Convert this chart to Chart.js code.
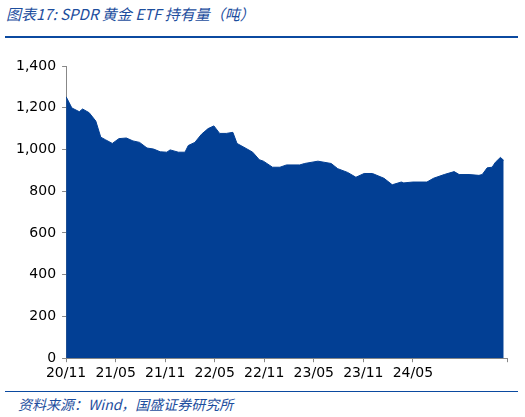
<!DOCTYPE html>
<html><head><meta charset="utf-8">
<script src="https://cdn.jsdelivr.net/npm/chart.js@4"></script>
<style>
body{margin:0;width:525px;height:417px;background:#fff;position:relative;overflow:hidden;font-family:"Noto Sans CJK SC",sans-serif}
#titulo{position:absolute;left:6px;top:3px;font-size:15px;font-style:italic;color:#1d4e9e}
#linha1{position:absolute;left:5px;top:36px;width:513px;height:2px;background:#0b4aa0}
#linha2{position:absolute;left:5px;top:391px;width:513px;height:1px;background:#0b4aa0}
#fonte{position:absolute;left:18px;top:394px;font-size:14px;font-style:italic;color:#1d4e9e}
#box{position:absolute;left:0;top:40px;width:525px;height:345px}
</style></head><body>
<div id="titulo">图表17:  SPDR 黄金 ETF 持有量（吨）</div>
<div id="linha1"></div>
<div id="box"><canvas id="grafico"></canvas></div>
<div id="linha2"></div>
<div id="fonte">资料来源：Wind，国盛证券研究所</div>
<script>
// meses desde 2020/11
const meses = [0,0.7,1.6,2.0,2.8,3.6,4.2,4.8,5.6,6.4,7.3,8.1,8.9,9.8,10.6,11.4,12.2,12.6,13.6,14.4,14.8,15.6,16.4,17.2,17.9,18.6,19.4,20.2,20.7,21.8,22.6,23.4,23.9,25.0,25.9,26.7,28.3,28.9,30.5,32.1,32.9,34.1,35.1,36.1,37.1,38.5,39.5,40.6,40.9,42.0,43.7,44.5,45.8,47.0,47.6,48.8,50.0,50.4,51.0,51.6,52.0,52.6,53.0];
const toneladas = [1253,1199,1181,1194,1176,1136,1059,1046,1029,1052,1055,1041,1034,1007,1002,989,987,998,987,987,1019,1034,1073,1100,1113,1077,1077,1082,1029,1005,987,951,944,915,915,926,926,933,944,933,908,890,867,885,885,862,831,844,840,844,844,862,880,894,880,880,876,880,912,915,939,962,948];
const rotulosX = ['20/11','21/05','21/11','22/05','22/11','23/05','23/11','24/05','24/11'];

const pontos = meses.map((m, i) => ({ x: m, y: toneladas[i] }));
const fonteEixo = { family: 'DejaVu Sans', size: 14 };

new Chart(document.getElementById('grafico'), {
    type: 'line',
    data: {
        datasets: [{
            data: pontos,
            borderColor: '#023f94',
            backgroundColor: '#023f94',
            borderWidth: 1,
            pointRadius: 0,
            fill: 'origin',
            tension: 0
        }]
    },
    options: {
        responsive: true,
        maintainAspectRatio: false,
        animation: false,
        layout: { padding: { left: 10, right: 18, top: 26, bottom: 0 } },
        plugins: { legend: { display: false }, tooltip: { enabled: false } },
        scales: {
            x: {
                type: 'linear',
                min: 0,
                max: 53.4,
                grid: { drawOnChartArea: false, color: '#888', tickLength: 4 },
                border: { color: '#888' },
                ticks: {
                    stepSize: 6,
                    color: '#000',
                    font: fonteEixo,
                    maxRotation: 0,
                    callback: v => rotulosX[Math.round(v / 6)] ?? ''
                }
            },
            y: {
                min: 0,
                max: 1400,
                grid: { drawOnChartArea: false, color: '#888', tickLength: 4 },
                border: { color: '#888' },
                ticks: { stepSize: 200, color: '#000', font: fonteEixo, padding: 6 }
            }
        }
    }
});
</script>
</body></html>
